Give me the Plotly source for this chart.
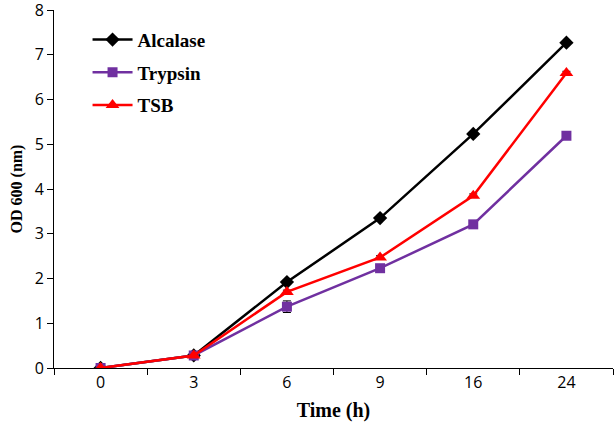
import plotly.graph_objects as go

time_labels = ["0", "3", "6", "9", "16", "24"]
alcalase = [0.0, 0.28, 1.92, 3.35, 5.23, 7.27]
trypsin = [0.0, 0.28, 1.37, 2.23, 3.21, 5.19]
tsb = [0.0, 0.28, 1.70, 2.47, 3.85, 6.59]
alcalase_err = [0.0, 0.02, 0.04, 0.04, 0.04, 0.04]
trypsin_err = [0.0, 0.03, 0.13, 0.05, 0.05, 0.04]
tsb_err = [0.0, 0.02, 0.04, 0.04, 0.04, 0.04]
y_ticks = [0, 1, 2, 3, 4, 5, 6, 7, 8]

fig = go.Figure()
series = [
    ("Alcalase", alcalase, alcalase_err, "#000000", "diamond", 11),
    ("Trypsin", trypsin, trypsin_err, "#7030A0", "square", 10),
    ("TSB", tsb, tsb_err, "#FF0000", "triangle-up", 12),
]
for name, vals, err, col, sym, sz in series:
    fig.add_trace(go.Scatter(
        x=time_labels, y=vals, name=name, mode="lines+markers", legendgroup=name,
        line=dict(color=col, width=2.5),
        marker=dict(symbol=sym, size=sz, color=col),
        error_y=dict(type="data", array=err, visible=True, color="#000000", thickness=1, width=4),
    ))

fig.update_layout(
    width=614, height=426,
    margin=dict(l=54, r=1, t=10, b=58),
    paper_bgcolor="white", plot_bgcolor="white",
    showlegend=True,
    legend=dict(x=0.06, y=0.97, xanchor="left", yanchor="top",
                font=dict(family="Liberation Serif", size=19, color="black", weight="bold"),
                bgcolor="rgba(0,0,0,0)", tracegroupgap=5, itemwidth=40),
    font=dict(family="Open Sans", color="black"),
)
fig.update_xaxes(
    type="category", range=[-0.5, 5.5], tickson="boundaries",
    ticks="outside", ticklen=6, tickcolor="black", automargin=False,
    showline=True, linecolor="black", linewidth=1, showgrid=False,
    tickfont=dict(family="Open Sans", size=16, color="black"),
    title=dict(text="<b>Time (h)</b>", font=dict(family="Liberation Serif", size=20, color="black"), standoff=10),
)
fig.update_yaxes(
    range=[0, 8], tickvals=y_ticks, ticks="outside", ticklen=6, tickcolor="black", automargin=False,
    ticklabeloverflow="allow",
    showline=True, linecolor="black", linewidth=1, showgrid=False, zeroline=False,
    tickfont=dict(family="Open Sans", size=16, color="black"),
    title=dict(text="<b>OD 600 (nm)</b>", font=dict(family="Liberation Serif", size=16, color="black"), standoff=8),
)
fig.write_html("out.html", config={"displayModeBar": False},
               post_script="document.body.style.margin='0';")
